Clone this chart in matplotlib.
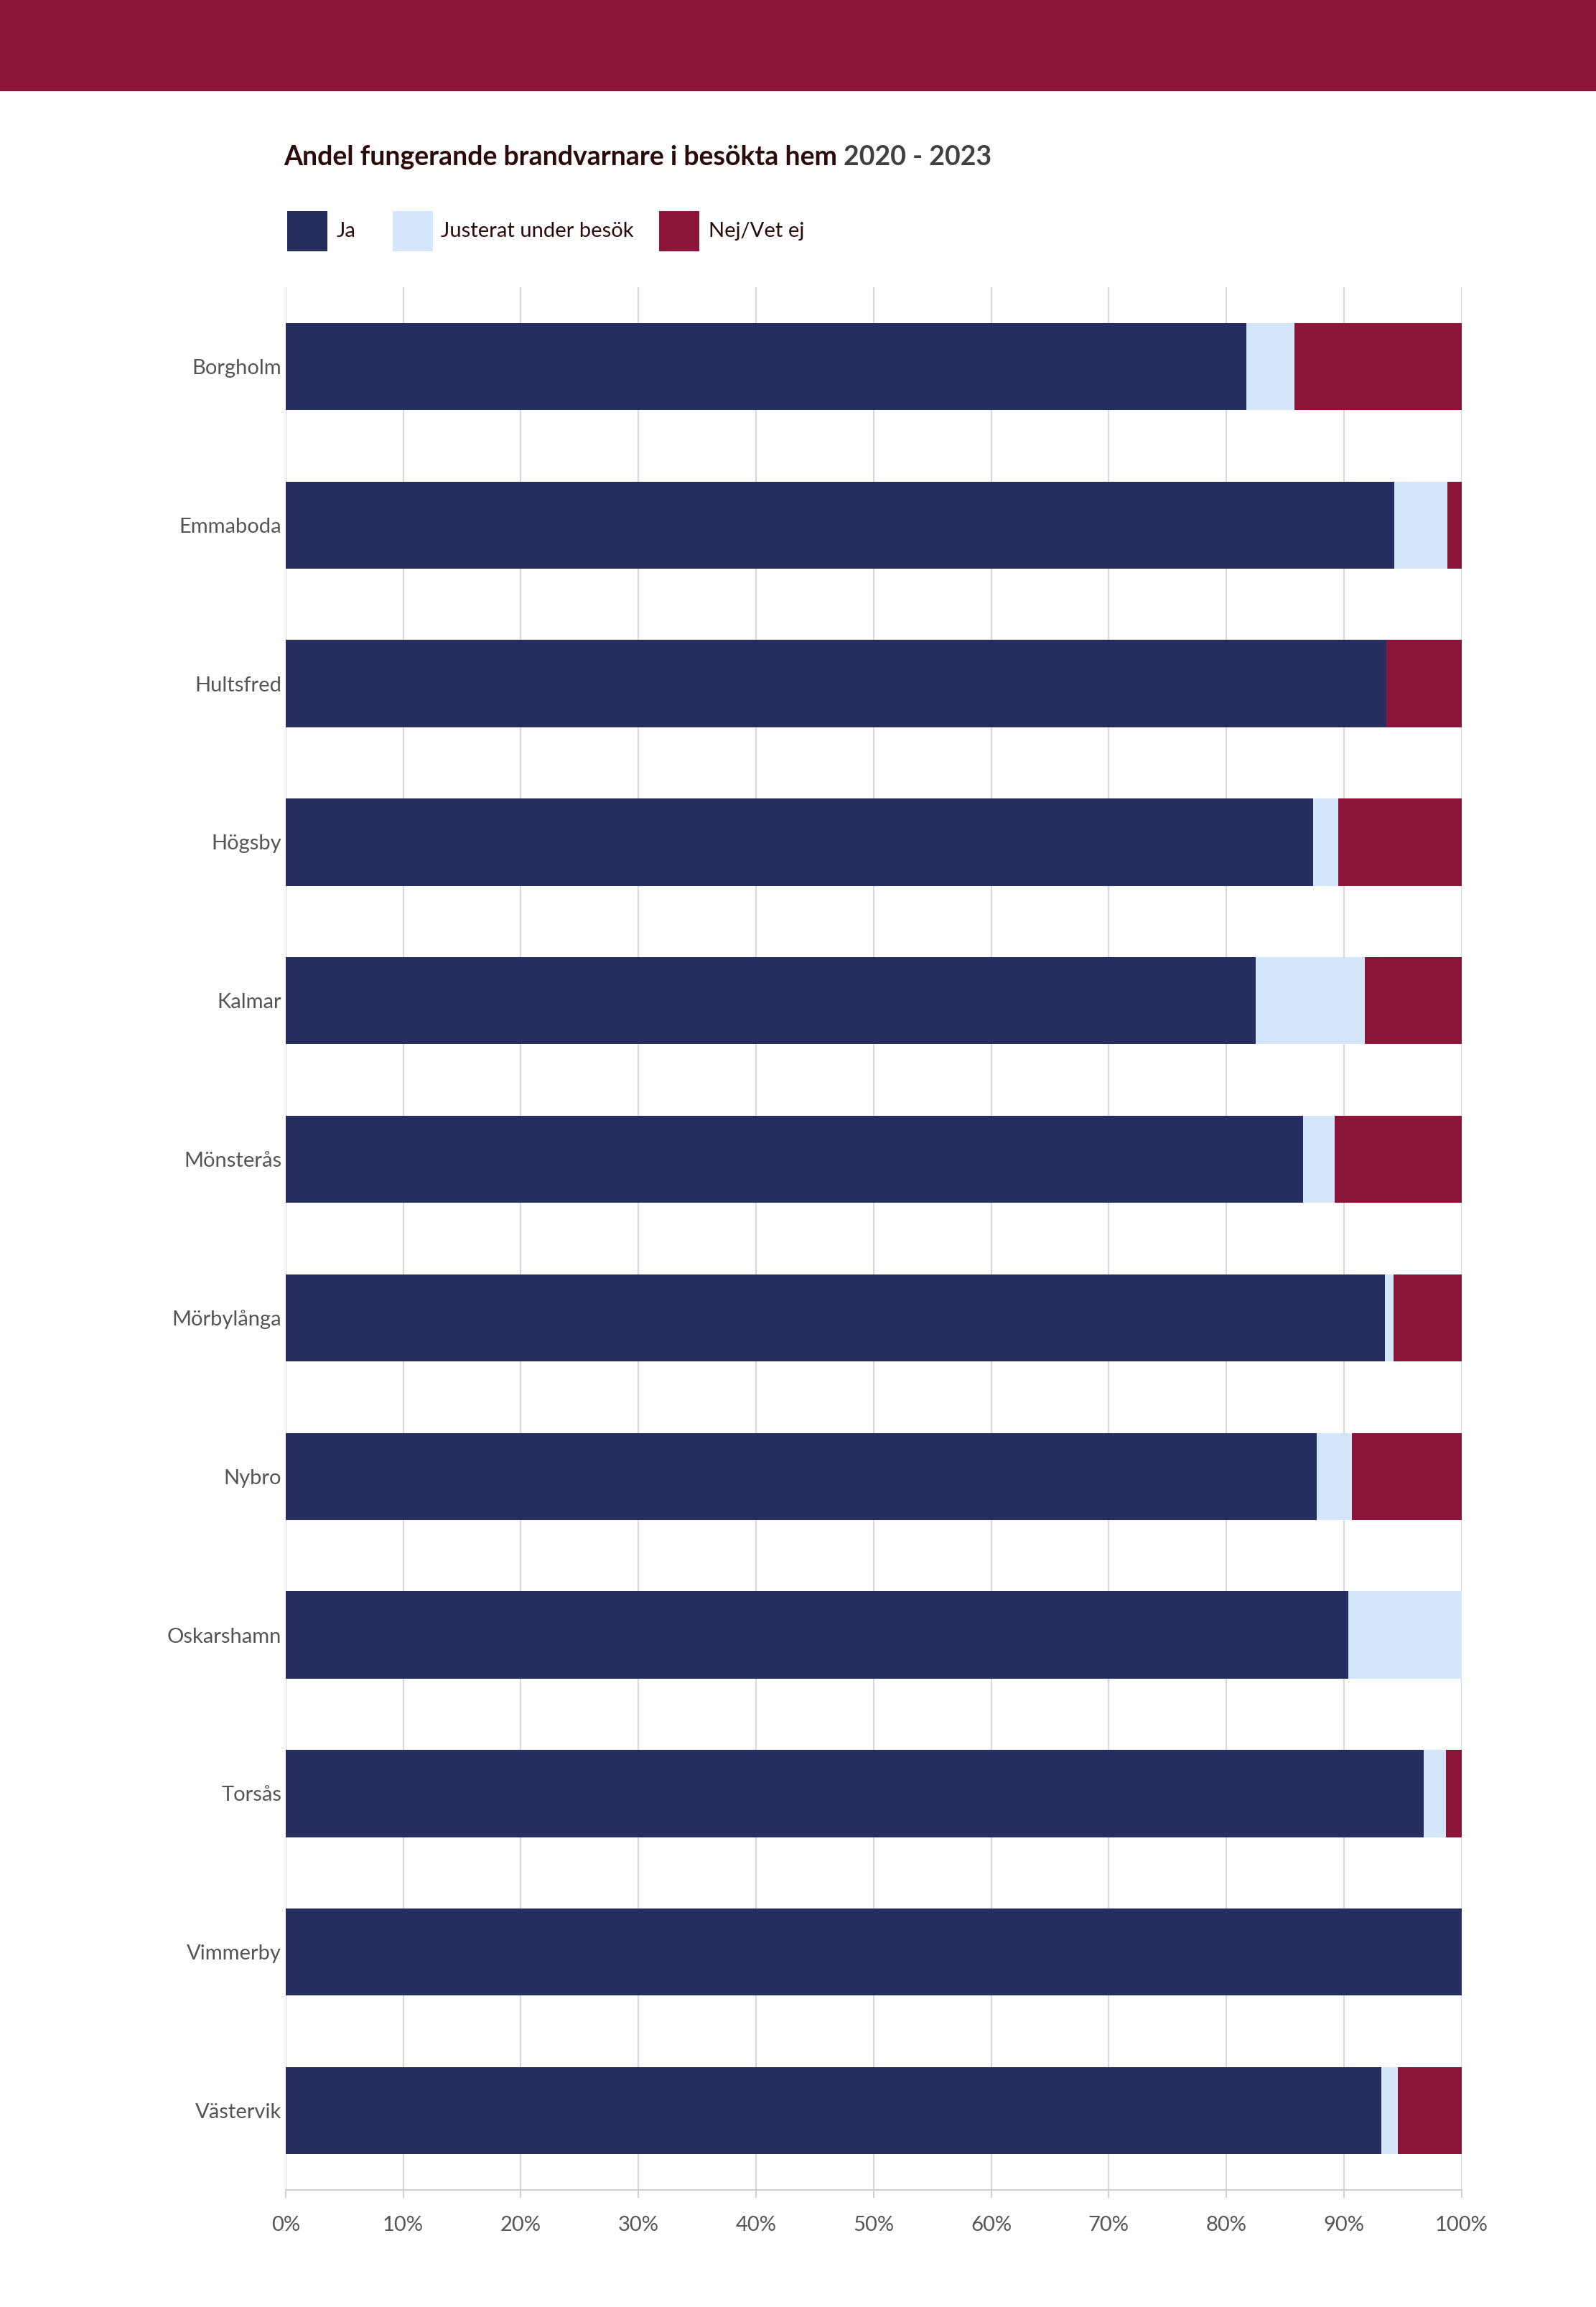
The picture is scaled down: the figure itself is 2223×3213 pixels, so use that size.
import matplotlib.pyplot as plt
from matplotlib.patches import Rectangle
import numpy as np

kommuner = ["Borgholm", "Emmaboda", "Hultsfred", "Högsby", "Kalmar", "Mönsterås",
            "Mörbylånga", "Nybro", "Oskarshamn", "Torsås", "Vimmerby", "Västervik"]
ja = [81.7, 94.3, 93.6, 87.4, 82.5, 86.5, 93.5, 87.7, 90.4, 96.8, 100.0, 93.2]
justerat = [4.1, 4.5, 0.0, 2.1, 9.3, 2.7, 0.7, 3.0, 9.6, 1.9, 0.0, 1.4]
nej = [14.2, 1.2, 6.4, 10.5, 8.2, 10.8, 5.8, 9.3, 0.0, 1.3, 0.0, 5.4]

series = ["Ja", "Justerat under besök", "Nej/Vet ej"]
farger = ["#252E5E", "#D6E6FA", "#8A1538"]
ticks = [0, 10, 20, 30, 40, 50, 60, 70, 80, 90, 100]

W, H, DPI = 2223, 3213, 200
plt.rcParams["font.family"] = ["Lato", "DejaVu Sans"]

fig = plt.figure(figsize=(W / DPI, H / DPI), dpi=DPI)

# top banner
fig.add_artist(Rectangle((0, 1 - 127 / H), 1, 127 / H, transform=fig.transFigure,
                         color="#8A1538", lw=0, zorder=0))

ax = fig.add_axes([397.7 / W, 163 / H, 1638 / W, 2650 / H])
y = np.arange(len(kommuner))
left = np.zeros(len(kommuner))
for vals, name, c in zip([ja, justerat, nej], series, farger):
    ax.barh(y, vals, left=left, height=0.55, color=c, label=name, zorder=3)
    left += np.array(vals)

ax.set_xlim(0, 100)
ax.set_ylim(11.5, -0.5)
ax.set_yticks(y)
ax.set_yticklabels(kommuner, fontsize=10.5, color="#555555")
ax.set_xticks(ticks)
ax.set_xticklabels([f"{t}%" for t in ticks], fontsize=10.5, color="#555555")
ax.tick_params(axis="y", length=0, pad=2)
ax.tick_params(axis="x", length=4, width=0.7, color="#D0D0D0", pad=9)
ax.grid(axis="x", color="#D9D9D9", lw=0.8, zorder=0)
for s in ["top", "right", "left"]:
    ax.spines[s].set_visible(False)
ax.spines["bottom"].set_color("#D0D0D0")
ax.spines["bottom"].set_linewidth(0.8)

# title in two colours
t1 = fig.text(395 / W, 1 - 230 / H, "Andel fungerande brandvarnare i besökta hem",
              fontsize=13.5, fontweight="bold", color="#2B0A0A", va="baseline")
fig.canvas.draw()
bb = t1.get_window_extent()
fig.text(bb.x1 / W + 0.004, 1 - 230 / H, "2020 - 2023", fontsize=13.5,
         fontweight="bold", color="#404040", va="baseline")

# legend
sq_x = [400, 547, 918]
txt_x = [469, 614, 987]
for name, c, sx, tx in zip(series, farger, sq_x, txt_x):
    fig.add_artist(Rectangle((sx / W, 1 - 350 / H), 56 / W, 56 / H,
                             transform=fig.transFigure, color=c, lw=0))
    fig.text(tx / W, 1 - 322 / H, name, fontsize=10.5, color="#2B0A0A", va="center")

fig.savefig("out.png", dpi=DPI)
